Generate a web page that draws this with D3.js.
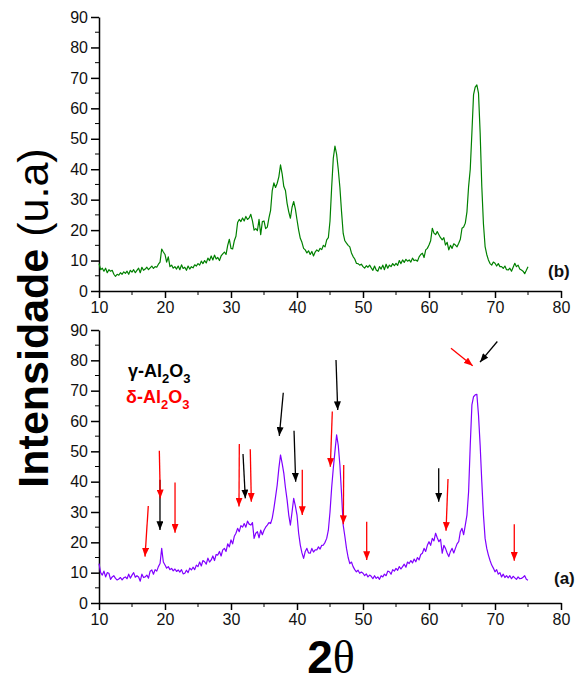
<!DOCTYPE html>
<html>
<head>
<meta charset="utf-8">
<script src="https://cdn.jsdelivr.net/npm/d3@7"></script>
<style>
    body { margin: 0; background: #fff; }
    svg { display: block; }
</style>
</head>
<body>
<div id="chart"></div>
<script>
// ==========================================================================
// DADOS
// ==========================================================================

// grade de 2θ: 10° a 75°, passo 0.25°
const angleStart = 10;
const angleStep = 0.25;

// amostra (b) - painel superior, verde
const intensityB = [
    9.0, 7.0, 7.5, 6.5,   7.5, 6.0, 7.0, 6.5,   6.8, 5.5, 4.8, 5.5,   5.2, 6.0, 5.5, 6.3,
    5.8, 6.5, 5.5, 6.8,   6.2, 7.0, 6.0, 6.8,   7.5, 6.0, 7.8, 6.8,   7.2, 7.8, 7.0, 7.6,
    8.2, 7.4, 8.0, 7.8,   8.8, 9.5, 13.8, 12.8, 12.0, 9.5, 11.2, 8.0, 8.5, 7.5, 8.0, 7.2,
    8.2, 7.0, 8.6, 7.4,   7.8, 6.8, 8.2, 7.2,   8.0, 7.6, 8.6, 8.2,   9.0, 8.5, 9.8, 9.0,
    10.0, 9.2, 10.8, 10.0, 11.5, 10.2, 11.8, 10.5, 11.0, 10.0, 11.5, 12.2, 12.8, 12.0, 15.0, 17.0,
    14.0, 13.8, 16.5, 18.0, 22.5, 23.5, 22.8, 24.0, 23.0, 24.5, 23.5, 24.0, 25.2, 23.0, 20.0, 20.5,
    19.8, 23.5, 18.5, 22.8, 23.0, 20.5, 21.0, 24.0, 26.5, 33.0, 35.5, 34.0, 35.4, 37.5, 41.4, 38.5,
    34.3, 33.0, 28.8, 26.0, 23.9, 27.5, 29.4, 27.0, 23.4, 20.0, 17.3, 16.0, 14.0, 13.5, 12.5, 13.2,
    12.0, 13.0, 11.5, 12.8, 13.5, 13.0, 14.0, 13.6, 15.0, 14.5, 16.8, 17.5, 23.0, 34.0, 43.6, 47.6,
    45.0, 40.0, 34.0, 26.0, 18.9, 16.5, 15.7, 15.0, 14.5, 12.5, 11.3, 10.5, 9.1, 9.0, 8.5, 8.8,
    8.0, 7.5, 8.3, 7.8,   8.5, 7.6, 6.8, 8.2,   6.9, 6.5, 8.0, 7.2,   8.5, 7.0, 8.8, 7.5,
    8.5, 8.0, 9.0, 8.3,   9.1, 8.4, 10.0, 9.0,  10.2, 9.4, 10.4, 9.8, 10.2, 9.5, 10.8, 10.0,
    10.2, 9.8, 11.2, 12.0, 12.4, 11.0, 13.5, 14.0, 15.1, 16.5, 20.6, 19.0, 18.5, 19.5, 18.5, 17.5,
    16.8, 17.5, 15.1, 16.0, 13.5, 15.0, 14.0, 15.5, 15.1, 14.5, 15.7, 17.0, 20.6, 21.0, 22.3, 26.0,
    34.3, 40.0, 52.0, 64.5, 67.0, 67.7, 65.0, 52.0, 34.3, 22.0, 14.6, 12.0, 10.2, 9.0, 8.5, 9.5,
    9.1, 8.2, 9.0, 8.0,   8.0, 7.4, 8.2, 7.0,   6.9, 7.5, 6.5, 7.8,   9.1, 8.0, 8.5, 7.2,
    6.9, 6.5, 5.7, 6.8,   8.0
];

// amostra (a) - painel inferior, roxo
const intensityA = [
    13.0, 10.0, 9.2, 10.5, 8.6, 10.0, 9.8, 7.8,  8.6, 9.0, 8.1, 7.6,   7.9, 8.4, 7.6, 8.3,
    8.6, 8.0, 9.5, 8.2,   9.2, 10.0, 8.5, 9.0,  8.6, 7.2, 9.5, 8.4,   8.6, 9.2, 8.2, 10.5,
    10.9, 9.5, 11.0, 10.5, 12.0, 13.0, 18.0, 13.5, 12.5, 11.5, 12.0, 11.0, 11.4, 10.6, 11.2, 10.4,
    10.9, 10.2, 11.0, 9.6, 9.8, 10.8, 10.0, 11.5, 10.9, 11.8, 11.0, 12.5, 12.0, 13.5, 12.2, 14.0,
    13.6, 12.8, 14.8, 13.5, 14.2, 15.5, 14.0, 16.0, 15.8, 17.0, 15.5, 17.5, 18.0, 17.0, 19.5, 18.5,
    20.8, 19.5, 22.0, 23.0, 24.6, 23.5, 25.5, 25.0, 26.2, 25.0, 27.0, 26.0, 25.7, 26.5, 21.3, 23.0,
    23.5, 21.5, 24.0, 22.5, 24.0, 25.0, 25.7, 26.5, 26.2, 28.0, 31.2, 35.0, 38.9, 44.4, 48.8, 46.0,
    42.8, 38.0, 34.0, 29.0, 25.7, 30.0, 34.5, 32.0, 29.0, 23.0, 19.1, 16.5, 14.7, 17.0, 18.0, 16.5,
    16.4, 18.0, 16.8, 17.5, 17.5, 18.5, 17.8, 19.0, 19.1, 20.0, 21.3, 24.0, 30.0, 38.0, 44.4, 50.0,
    55.4, 52.0, 45.5, 36.0, 25.7, 22.0, 18.0, 15.0, 13.0, 13.5, 12.0, 11.0, 10.3, 10.8, 9.8, 10.2,
    9.8, 9.0, 9.6, 8.6,   9.2, 8.8, 8.0, 9.0,   8.1, 8.6, 7.8, 9.0,   8.6, 9.5, 9.0, 10.5,
    10.3, 9.5, 11.0, 10.5, 11.4, 10.8, 12.0, 11.2, 12.0, 12.8, 11.8, 13.5, 13.0, 14.0, 13.2, 14.5,
    13.6, 15.0, 14.2, 16.0, 16.4, 18.0, 17.0, 19.0, 20.2, 19.0, 21.3, 20.5, 23.0, 21.5, 20.2, 21.0,
    16.4, 19.0, 18.0, 16.5, 15.3, 17.0, 18.0, 16.5, 18.0, 19.5, 20.2, 23.5, 24.6, 22.5, 25.7, 29.0,
    36.7, 52.0, 65.3, 68.0, 68.6, 68.8, 62.0, 52.0, 40.0, 29.0, 21.3, 18.0, 15.8, 14.0, 12.5, 11.5,
    10.3, 11.0, 9.5, 10.0, 8.6, 9.5, 8.4, 9.0,   8.3, 9.0, 8.0, 8.8,   8.3, 7.8, 8.6, 8.0,
    8.1, 8.5, 9.0, 7.8,   7.5
];

// ticks
const xTicks = [10, 20, 30, 40, 50, 60, 70, 80];
const xMinorTicks = [15, 25, 35, 45, 55, 65, 75];
const yTicks = [0, 10, 20, 30, 40, 50, 60, 70, 80, 90];
const yMinorTicks = [5, 15, 25, 35, 45, 55, 65, 75, 85];

// setas (2θ inicial, I inicial, 2θ ponta, I ponta)
const gammaArrows = [
    [19.24, 40.6, 19.24, 24.1],
    [31.82, 49.1, 32.17, 34.5],
    [37.92, 69.3, 37.32, 55.1],
    [39.55, 56.8, 39.80, 40.0],
    [45.91, 80.1, 46.17, 63.6],
    [61.47, 44.4, 61.47, 33.4],
    [70.35, 86.2, 67.73, 79.4]
];
const deltaArrows = [
    [17.47, 32.0, 16.97, 15.3],
    [19.14, 50.2, 19.29, 34.5],
    [21.52, 39.7, 21.52, 23.2],
    [31.26, 52.4, 31.21, 31.8],
    [32.92, 50.7, 33.08, 33.4],
    [40.80, 43.9, 40.80, 29.0],
    [45.35, 63.1, 45.05, 44.9],
    [47.08, 45.5, 47.02, 26.0],
    [50.56, 26.8, 50.56, 14.2],
    [62.88, 40.9, 62.58, 23.8],
    [63.33, 84.0, 66.62, 78.2],
    [72.92, 26.0, 72.92, 13.9]
];

// ==========================================================================
// CONFIGURAÇÕES
// ==========================================================================

const CHART_CONFIG = {
    width: 576,
    height: 684,
    xRange: [99, 561],
    topPanel: { y0: 291, y90: 17 },
    bottomPanel: { y0: 603, y90: 330 },
    font: '"Liberation Sans", Arial, sans-serif',
    colors: { top: '#008000', bottom: '#8000ff', gamma: '#000', delta: '#ff0000' }
};

const svg = d3.select('#chart')
    .append('svg')
    .attr('width', CHART_CONFIG.width)
    .attr('height', CHART_CONFIG.height)
    .style('font-family', CHART_CONFIG.font);

const x = d3.scaleLinear().domain([10, 80]).range(CHART_CONFIG.xRange);

// marcadores das setas
const defs = svg.append('defs');
[['head-gamma', CHART_CONFIG.colors.gamma], ['head-delta', CHART_CONFIG.colors.delta]].forEach(([id, c]) => {
    defs.append('marker')
        .attr('id', id)
        .attr('viewBox', '0 0 10 8')
        .attr('refX', 10).attr('refY', 4)
        .attr('markerWidth', 9).attr('markerHeight', 7)
        .attr('markerUnits', 'userSpaceOnUse')
        .attr('orient', 'auto')
        .append('path')
        .attr('d', 'M0,0L10,4L0,8Z')
        .attr('fill', c);
});

/**
 * Desenha um painel (eixos + curva)
 */
function drawPanel(values, panel, color, tag) {
    const y = d3.scaleLinear().domain([0, 90]).range([panel.y0, panel.y90]);
    const g = svg.append('g');

    // eixo X
    const xAxis = g.append('g')
        .attr('transform', `translate(0,${panel.y0})`)
        .call(d3.axisBottom(x).tickValues(xTicks).tickSize(7).tickSizeOuter(0).tickPadding(4));
    xAxis.append('g').selectAll('line')
        .data(xMinorTicks)
        .enter().append('line')
        .attr('x1', d => x(d)).attr('x2', d => x(d))
        .attr('y1', 0).attr('y2', 4)
        .attr('stroke', '#000');

    // eixo Y
    const yAxis = g.append('g')
        .attr('transform', `translate(${CHART_CONFIG.xRange[0]},0)`)
        .call(d3.axisLeft(y).tickValues(yTicks).tickSize(8).tickSizeOuter(0).tickPadding(3));
    yAxis.append('g').selectAll('line')
        .data(yMinorTicks)
        .enter().append('line')
        .attr('y1', d => y(d)).attr('y2', d => y(d))
        .attr('x1', 0).attr('x2', -4)
        .attr('stroke', '#000');

    g.selectAll('.domain, .tick line').attr('stroke', '#000').attr('stroke-width', 1.5);
    g.selectAll('.tick text')
        .attr('fill', '#111')
        .style('font-size', '16px')
        .style('font-family', CHART_CONFIG.font);

    // curva
    const line = d3.line()
        .x((d, i) => x(angleStart + i * angleStep))
        .y(d => y(d));
    g.append('path')
        .datum(values)
        .attr('d', line)
        .attr('fill', 'none')
        .attr('stroke', color)
        .attr('stroke-width', 1.2)
        .attr('stroke-linejoin', 'round');

    // rótulo do painel
    g.append('text')
        .attr('x', tag.x)
        .attr('y', tag.y)
        .attr('font-weight', 'bold')
        .attr('font-size', 17)
        .attr('fill', '#111')
        .text(tag.label);

    return y;
}

drawPanel(intensityB, CHART_CONFIG.topPanel, CHART_CONFIG.colors.top, { label: '(b)', x: 548, y: 277 });
const yA = drawPanel(intensityA, CHART_CONFIG.bottomPanel, CHART_CONFIG.colors.bottom, { label: '(a)', x: 554, y: 584 });

// setas γ e δ
function drawArrows(list, color, marker) {
    svg.append('g').selectAll('line')
        .data(list)
        .enter().append('line')
        .attr('x1', d => x(d[0])).attr('y1', d => yA(d[1]))
        .attr('x2', d => x(d[2])).attr('y2', d => yA(d[3]))
        .attr('stroke', color)
        .attr('stroke-width', 1.3)
        .attr('marker-end', `url(#${marker})`);
}
drawArrows(gammaArrows, CHART_CONFIG.colors.gamma, 'head-gamma');
drawArrows(deltaArrows, CHART_CONFIG.colors.delta, 'head-delta');

// legenda
function legendLabel(xPos, yPos, greek, color) {
    const t = svg.append('text')
        .attr('x', xPos).attr('y', yPos)
        .attr('fill', color)
        .attr('font-weight', 'bold')
        .attr('font-size', 18);
    t.append('tspan').text(greek + '-Al');
    t.append('tspan').attr('font-size', 13).attr('dy', 6).text('2');
    t.append('tspan').attr('dy', -6).text('O');
    t.append('tspan').attr('font-size', 13).attr('dy', 6).text('3');
}
legendLabel(128, 377, 'γ', CHART_CONFIG.colors.gamma);
legendLabel(126, 403, 'δ', CHART_CONFIG.colors.delta);

// títulos dos eixos
const yTitle = svg.append('text')
    .attr('transform', 'translate(48,318) rotate(-90)')
    .attr('text-anchor', 'middle')
    .attr('font-size', 43)
    .attr('fill', '#000');
yTitle.append('tspan').attr('font-weight', 'bold').text('Intensidade');
yTitle.append('tspan').text(' (u.a)');

const xTitle = svg.append('text')
    .attr('x', 331).attr('y', 673)
    .attr('text-anchor', 'middle')
    .attr('font-size', 46)
    .attr('fill', '#000');
xTitle.append('tspan').attr('font-weight', 'bold').text('2');
xTitle.append('tspan').style('font-family', '"Liberation Serif", "DejaVu Serif", serif').text('θ');
</script>
</body>
</html>
